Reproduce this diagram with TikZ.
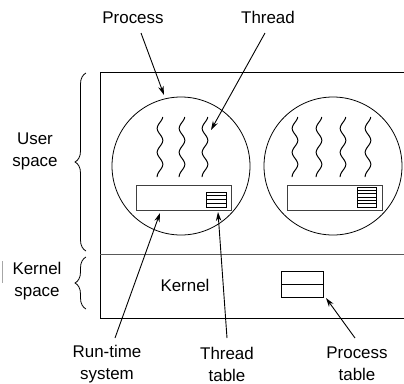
\documentclass[tikz,border=0pt]{standalone}
\usepackage{fontspec}
\setmainfont{Liberation Sans}
\usetikzlibrary{arrows.meta,decorations.pathreplacing}
\begin{document}
\begin{tikzpicture}[x=1bp,y=-1bp,
  line width=0.8pt,
  lbl/.style={font=\fontsize{17}{22}\selectfont, align=center, inner sep=0pt},
  proc/.style={circle, draw, minimum size=138bp, inner sep=0pt},
  rts/.style={draw, line width=1.1pt, draw=black!75, minimum width=95bp, minimum height=25bp, inner sep=0pt, anchor=north west},
  arr/.style={-{Stealth[length=9bp,width=5.5bp]}, line width=0.9pt},
  brc/.style={decorate, decoration={brace, amplitude=11bp}, line width=0.8pt},
  thr/.style={line width=1pt}
]
\useasboundingbox (0,0) rectangle (404,384);

% outer box
\draw (410,72) -- (100,72) -- (100,318) -- (410,318);
\draw[line width=1.1pt, black!65] (100,254.5) -- (410,254.5);

% faint artifact line at left
\draw[black!35, line width=0.6pt] (2,261) -- (2,283);

% braces
\draw[brc] (86,251) -- (86,73);
\draw[brc] (86,309) -- (86,257);
\node[lbl] (us) at (35,151) {User\\space};
\node[lbl] (ks) at (37,281) {Kernel\\space};

% processes
\node[proc] (p1) at (181,166) {};
\node[proc] (p2) at (333,166) {};

% threads
\foreach \xx in {160,182,205,295,319,343,368}{
  \draw[thr] plot[domain=0:60, samples=60, smooth] ({\xx+2.8*cos(\x*15+10)},{117+\x});
}

% run-time systems
\node[rts] (r1) at (136,185) {};
\node[rts] (r2) at (287,185) {};

% thread tables
\draw (206,192) rectangle (226,207);
\foreach \yy in {195.75,199.5,203.25} \draw (206,\yy) -- (226,\yy);
\node[inner sep=0pt, minimum width=20bp, minimum height=15bp] (t1) at (216,199.5) {};
\draw (357,187) rectangle (376,207);
\foreach \yy in {190.3,193.7,197,200.3,203.7} \draw (357,\yy) -- (376,\yy);
\node[inner sep=0pt, minimum width=19bp, minimum height=20bp] (t2) at (366.5,197) {};

% kernel
\node[lbl] (kern) at (185,285) {Kernel};
\draw (281,271) rectangle (323,297);
\draw (281,284) -- (323,284);
\node[inner sep=0pt, minimum width=42bp, minimum height=26bp] (pt) at (302,284) {};

% top labels
\node[lbl] (lproc) at (133,18) {Process};
\node[lbl] (lthr) at (268,17) {Thread};
\coordinate (aproc) at (164,95);
\coordinate (athr) at (211,130);
\draw[arr] (141,33) -- (aproc);
\draw[arr] (265,33) -- (athr);

% bottom labels
\node[lbl] (lrts) at (107,364) {Run-time\\system};
\node[lbl] (ltt) at (227,364) {Thread\\table};
\node[lbl] (lpt) at (357,364) {Process\\table};
\coordinate (arts) at (160,213);
\coordinate (att) at (218,212);
\coordinate (apt) at (326,298);
\draw[arr] (115,338) -- (arts);
\draw[arr] (227,338) -- (att);
\draw[arr] (355,338) -- (apt);
\end{tikzpicture}
\end{document}
